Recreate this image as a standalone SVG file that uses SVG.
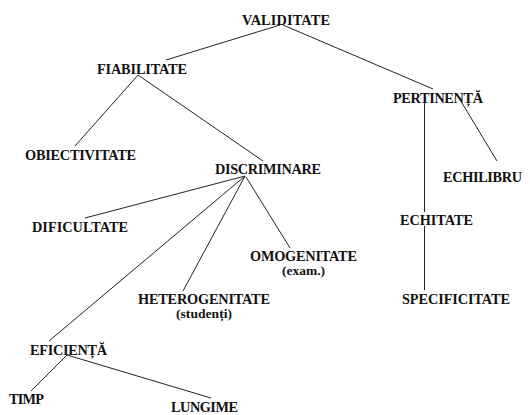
<svg xmlns="http://www.w3.org/2000/svg" width="530" height="415" viewBox="0 0 530 415">
<style>
.t{font-family:'Liberation Serif','Times New Roman',Times,serif;font-weight:700;font-size:14.3px;fill:#111}
.s{font-size:13.5px}
.c line{stroke:#222;stroke-width:1}
</style>
<rect width="530" height="415" fill="#fff"/>
<g class="c" id="connectors">
<line x1="280" y1="25" x2="166" y2="60"/>
<line x1="283" y1="25" x2="433" y2="89"/>
<line x1="138" y1="75" x2="75" y2="146"/>
<line x1="138" y1="75" x2="263" y2="161"/>
<line x1="424.5" y1="103" x2="424.5" y2="212"/>
<line x1="424.5" y1="226" x2="424.5" y2="290"/>
<line x1="462" y1="103" x2="497" y2="161"/>
<line x1="245" y1="176" x2="85" y2="218"/>
<line x1="245" y1="176" x2="49" y2="341"/>
<line x1="245" y1="176" x2="183" y2="291"/>
<line x1="246" y1="177" x2="290" y2="248"/>
<line x1="67" y1="355" x2="31" y2="391"/>
<line x1="67" y1="355" x2="211" y2="398"/>
</g>
<g class="t">
<g id="validitate"><text x="242" y="25" textLength="88">VALIDITATE</text></g>
<g id="fiabilitate"><text x="97" y="74" textLength="90">FIABILITATE</text></g>
<g id="pertinenta"><text x="393" y="103" textLength="90">PERTINENȚĂ</text></g>
<g id="obiectivitate"><text x="25" y="160" textLength="111">OBIECTIVITATE</text></g>
<g id="discriminare"><text x="215" y="174" textLength="106">DISCRIMINARE</text></g>
<g id="echilibru"><text x="443" y="182" textLength="79">ECHILIBRU</text></g>
<g id="dificultate"><text x="32" y="232" textLength="96">DIFICULTATE</text></g>
<g id="echitate"><text x="400" y="225" textLength="73">ECHITATE</text></g>
<g id="omogenitate"><text x="250" y="261" textLength="107">OMOGENITATE</text><text class="s" x="282" y="275" textLength="43">(exam.)</text></g>
<g id="heterogenitate"><text x="138" y="304" textLength="132">HETEROGENITATE</text><text class="s" x="176" y="318" textLength="56">(studenți)</text></g>
<g id="specificitate"><text x="402" y="304" textLength="108">SPECIFICITATE</text></g>
<g id="eficienta"><text x="30" y="355" textLength="77">EFICIENȚĂ</text></g>
<g id="timp"><text x="9" y="404" textLength="35">TIMP</text></g>
<g id="lungime"><text x="171" y="412" textLength="67">LUNGIME</text></g>
</g>
</svg>
